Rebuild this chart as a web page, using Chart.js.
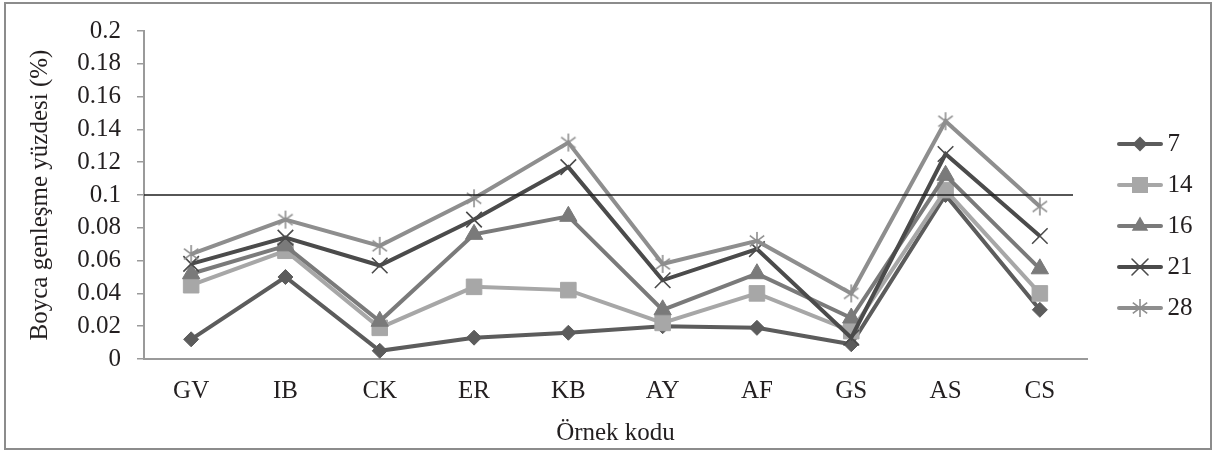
<!DOCTYPE html>
<html>
<head>
<meta charset="utf-8">
<script src="https://cdn.jsdelivr.net/npm/chart.js@4/dist/chart.umd.min.js"></script>
<style>
  html, body { margin: 0; padding: 0; background: #ffffff; }
  #wrap { width: 1213px; height: 451px; }
</style>
</head>
<body>
<div id="wrap"><canvas id="c" width="1213" height="451"></canvas></div>
<script>
// ---- data ----
const categories = ['GV', 'IB', 'CK', 'ER', 'KB', 'AY', 'AF', 'GS', 'AS', 'CS'];
const seriesNames = ['7', '14', '16', '21', '28'];
const s7  = [0.012, 0.050, 0.005, 0.013, 0.016, 0.020, 0.019, 0.009, 0.100, 0.030];
const s14 = [0.045, 0.066, 0.019, 0.044, 0.042, 0.022, 0.040, 0.017, 0.103, 0.040];
const s16 = [0.052, 0.069, 0.023, 0.076, 0.087, 0.030, 0.052, 0.025, 0.112, 0.055];
const s21 = [0.058, 0.074, 0.057, 0.085, 0.117, 0.048, 0.067, 0.013, 0.125, 0.075];
const s28 = [0.064, 0.085, 0.069, 0.098, 0.132, 0.058, 0.072, 0.040, 0.145, 0.093];
const yTickLabels = ['0', '0.02', '0.04', '0.06', '0.08', '0.1', '0.12', '0.14', '0.16', '0.18', '0.2'];
const refLineValue = 0.1;

// ---- styles ----
const FONT = '"Liberation Serif", "Times New Roman", serif';
const TXT = '#231f20';
const colors = ['#5c5c5c', '#a7a7a7', '#7a7a7a', '#4b4b4b', '#8e8e8e'];

function makeAsterisk(color, size, lw) {
  const c = document.createElement('canvas');
  c.width = size; c.height = size;
  const g = c.getContext('2d');
  const m = size / 2, r = size / 2 - 1;
  g.strokeStyle = color; g.lineWidth = lw; g.lineCap = 'butt';
  g.beginPath();
  g.moveTo(m, m - r); g.lineTo(m, m + r);
  const d = r * 0.8;
  g.moveTo(m - d, m - d * 0.75); g.lineTo(m + d, m + d * 0.75);
  g.moveTo(m + d, m - d * 0.75); g.lineTo(m - d, m + d * 0.75);
  g.stroke();
  return c;
}
const asterisk = makeAsterisk(colors[4], 20, 1.6);

function drawMarker(g, kind, color, x, y) {
  g.fillStyle = color; g.strokeStyle = color;
  g.beginPath();
  if (kind === 'diamond') {
    const r = 7.5;
    g.moveTo(x - r, y); g.lineTo(x, y - r); g.lineTo(x + r, y); g.lineTo(x, y + r); g.closePath(); g.fill();
  } else if (kind === 'square') {
    const s = 8;
    g.rect(x - s, y - s, 2 * s, 2 * s); g.fill();
  } else if (kind === 'triangle') {
    const r = 9.5;
    g.moveTo(x, y - r);
    g.lineTo(x + r * Math.sin(Math.PI * 2 / 3), y - r * Math.cos(Math.PI * 2 / 3));
    g.lineTo(x + r * Math.sin(Math.PI * 4 / 3), y - r * Math.cos(Math.PI * 4 / 3));
    g.closePath(); g.fill();
  } else if (kind === 'cross') {
    const d = 8;
    g.lineWidth = 1.6;
    g.moveTo(x - d, y - d); g.lineTo(x + d, y + d);
    g.moveTo(x + d, y - d); g.lineTo(x - d, y + d);
    g.stroke();
  } else if (kind === 'asterisk') {
    g.drawImage(asterisk, x - 10, y - 10);
  }
}
const markerKinds = ['diamond', 'square', 'triangle', 'cross', 'asterisk'];
function makeLegendImg(i) {
  const c = document.createElement('canvas');
  c.width = 46; c.height = 22;
  const g = c.getContext('2d');
  g.strokeStyle = colors[i]; g.lineWidth = 4; g.lineCap = 'round';
  g.beginPath(); g.moveTo(2, 11); g.lineTo(44, 11); g.stroke();
  drawMarker(g, markerKinds[i], colors[i], 23, 11);
  return c;
}
const legendImgs = [0, 1, 2, 3, 4].map(makeLegendImg);

const seriesData = [s7, s14, s16, s21, s28];
const pointStyles = ['rectRot', 'rect', 'triangle', 'crossRot', asterisk];
const pointRadii = [7.5, 11, 10, 11, 10];
const pointBW = [1, 1, 1, 1.6, 1];

const datasets = seriesData.map((d, i) => ({
  label: seriesNames[i],
  data: d,
  borderColor: colors[i],
  backgroundColor: colors[i],
  borderWidth: 4,
  tension: 0,
  pointStyle: pointStyles[i],
  pointRadius: pointRadii[i],
  pointHoverRadius: pointRadii[i],
  pointBackgroundColor: colors[i],
  pointBorderColor: colors[i],
  pointBorderWidth: pointBW[i],
  order: 5 - i
}));

const framePlugin = {
  id: 'frame',
  beforeDraw(chart) {
    const g = chart.ctx;
    g.save();
    g.fillStyle = '#ffffff';
    g.fillRect(0, 0, chart.width, chart.height);
    g.strokeStyle = '#8c8c8c';
    g.lineWidth = 2;
    g.strokeRect(5, 3, 1206, 446);
    g.restore();
  }
};
const refLinePlugin = {
  id: 'refLine',
  afterDatasetsDraw(chart) {
    const y = chart.scales.y.getPixelForValue(refLineValue);
    const g = chart.ctx;
    g.save();
    g.strokeStyle = '#1e1e1e';
    g.lineWidth = 1.5;
    g.beginPath();
    g.moveTo(chart.chartArea.left, y);
    g.lineTo(chart.chartArea.right - 14, y);
    g.stroke();
    g.restore();
  }
};
const legendPlacePlugin = {
  id: 'legendPlace',
  afterLayout(chart) {
    const lg = chart.legend;
    if (!lg) return;
    const w = lg.width, h = lg.height;
    lg.left = 1109; lg.right = lg.left + w;
    lg.top = 115.5; lg.bottom = lg.top + h;
  }
};

new Chart(document.getElementById('c'), {
  type: 'line',
  data: { labels: categories, datasets },
  options: {
    responsive: false,
    animation: false,
    events: [],
    layout: { padding: { left: 5, right: 32.5, top: 28, bottom: 0 } },
    plugins: {
      tooltip: { enabled: false },
      legend: {
        position: 'right',
        align: 'start',
        labels: {
          usePointStyle: true,
          pointStyleWidth: 30,
          padding: 16,
          color: TXT,
          font: { family: FONT, size: 25 },
          sort: (a, b) => a.datasetIndex - b.datasetIndex,
          generateLabels(chart) {
            const items = Chart.defaults.plugins.legend.labels.generateLabels(chart);
            items.forEach(it => { it.pointStyle = legendImgs[it.datasetIndex]; });
            return items;
          }
        }
      }
    },
    scales: {
      x: {
        offset: true,
        grid: { display: false, drawTicks: false, offset: true },
        border: { display: true, color: '#9a9a9a', width: 2 },
        ticks: { color: TXT, font: { family: FONT, size: 25 }, padding: 17, autoSkip: false, maxRotation: 0 },
        title: { display: true, text: 'Örnek kodu', color: TXT, font: { family: FONT, size: 25 }, padding: { top: 0, bottom: 3 } },
        afterFit(s) { s.height = 92; }
      },
      y: {
        min: 0, max: 0.2,
        grid: { display: true, drawOnChartArea: false, drawTicks: true, tickLength: 7, color: '#9a9a9a', lineWidth: 1.5 },
        border: { display: true, color: '#9a9a9a', width: 2 },
        ticks: {
          stepSize: 0.02, padding: 16, color: TXT, autoSkip: false,
          font: { family: FONT, size: 25 },
          callback: (v, i) => yTickLabels[i]
        },
        title: { display: true, text: 'Boyca genleşme yüzdesi (%)', color: TXT, font: { family: FONT, size: 25 }, padding: { top: 20, bottom: 0 } },
        afterFit(s) { s.width = 139; }
      }
    }
  },
  plugins: [framePlugin, refLinePlugin, legendPlacePlugin]
});
</script>
</body>
</html>
